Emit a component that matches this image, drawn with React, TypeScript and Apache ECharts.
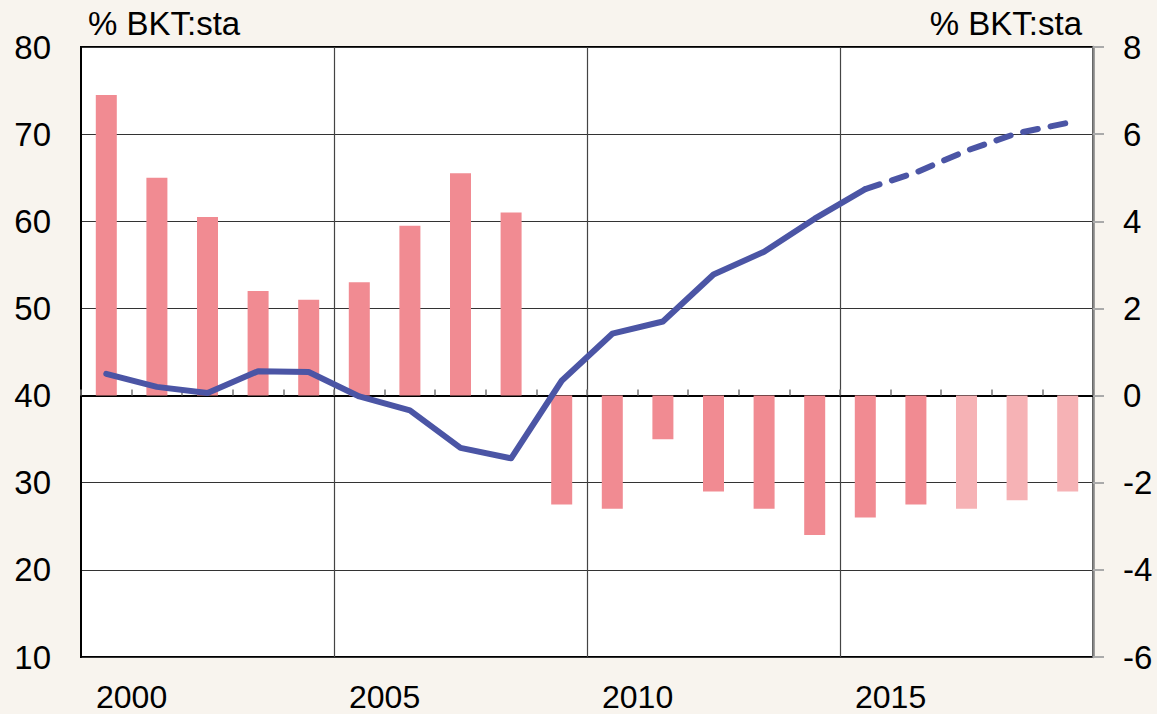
import React, { useEffect, useRef } from "react";
import * as echarts from "echarts";

const years = ["1999", "2000", "2001", "2002", "2003", "2004", "2005", "2006", "2007", "2008",
  "2009", "2010", "2011", "2012", "2013", "2014", "2015", "2016", "2017", "2018"];
// boundary labels (year starts), one more than categories
const boundaryLabels = ["1999", "2000", "2001", "2002", "2003", "2004", "2005", "2006", "2007", "2008",
  "2009", "2010", "2011", "2012", "2013", "2014", "2015", "2016", "2017", "2018", "2019"];
// public debt, % of GDP (left axis)
const debt = [42.5, 41.0, 40.3, 42.8, 42.7, 39.9, 38.3, 34.0, 32.8, 41.7,
  47.1, 48.5, 53.9, 56.5, 60.3, 63.7, 65.6, 68.1, 70.1, 71.3];
// balance, % of GDP (right axis)
const balance = [6.9, 5.0, 4.1, 2.4, 2.2, 2.6, 3.9, 5.1, 4.2, -2.5,
  -2.6, -1.0, -2.2, -2.6, -3.2, -2.8, -2.5, -2.6, -2.4, -2.2];
const forecastStart = 15; // dashed line from this index
const lightBarStart = 17; // lighter bars from this index
const leftTicks = { min: 10, max: 80, interval: 10 };
const rightTicks = { min: -6, max: 8, interval: 2 };

const FONT = "Liberation Sans, Arial, sans-serif";
const FS = 33;
const DARK_BAR = "#f18b92";
const LIGHT_BAR = "#f6b2b5";
const LINE = "#4b55a5";

export default function App() {
  const ref = useRef<HTMLDivElement>(null);
  useEffect(() => {
    if (!ref.current) return;
    const chart = echarts.init(ref.current, null, { renderer: "svg" });
    const solid = debt.map((v, i) => (i <= forecastStart ? v : null));
    const dashed = debt.map((v, i) => (i >= forecastStart ? v : null));
    chart.setOption({
      animation: false,
      backgroundColor: "#f8f4ee",
      textStyle: { fontFamily: FONT },
      grid: {
        left: 81,
        right: 64,
        top: 47,
        bottom: 57,
        show: true,
        backgroundColor: "#ffffff",
        borderColor: "#000",
        borderWidth: 2,
      },
      xAxis: [
        {
          type: "category",
          data: years,
          boundaryGap: true,
          position: "bottom",
          axisLine: { show: true, lineStyle: { color: "#000", width: 2 } },
          axisTick: { show: true, inside: true, length: 6, interval: 0, lineStyle: { color: "#777", width: 1.5 } },
          axisLabel: { show: false },
          splitLine: {
            show: true,
            interval: (index: number) => index > 0 && index % 5 === 0,
            lineStyle: { color: "#444", width: 1.2 },
          },
        },
        {
          type: "category",
          data: boundaryLabels,
          boundaryGap: false,
          position: "bottom",
          axisLine: { show: false },
          axisTick: { show: false },
          splitLine: { show: false },
          axisLabel: {
            show: true,
            interval: (index: number) => index % 5 === 1,
            fontSize: 32,
            lineHeight: 30,
            color: "#000",
            fontFamily: FONT,
            margin: 25,
          },
        },
      ],
      yAxis: [
        {
          type: "value",
          position: "left",
          min: leftTicks.min,
          max: leftTicks.max,
          interval: leftTicks.interval,
          name: "% BKT:sta",
          nameLocation: "end",
          nameGap: 24,
          nameTextStyle: { fontSize: FS, color: "#000", align: "left", verticalAlign: "middle", padding: [0, 0, 0, 7], fontFamily: FONT },
          axisLine: { show: true, lineStyle: { color: "#000", width: 2 } },
          axisTick: { show: false },
          axisLabel: { fontSize: FS, color: "#000", margin: 30, fontFamily: FONT },
          splitLine: { show: true, lineStyle: { color: "#333", width: 1.2 } },
        },
        {
          type: "value",
          position: "right",
          min: rightTicks.min,
          max: rightTicks.max,
          interval: rightTicks.interval,
          name: "% BKT:sta",
          nameLocation: "end",
          nameGap: 24,
          nameTextStyle: { fontSize: FS, color: "#000", align: "right", verticalAlign: "middle", padding: [0, 11, 0, 0], fontFamily: FONT },
          axisLine: { show: true, lineStyle: { color: "#888", width: 2.5 } },
          axisTick: { show: true, length: 11, lineStyle: { color: "#aaa", width: 2 } },
          axisLabel: { fontSize: FS, color: "#000", margin: 30, fontFamily: FONT },
          splitLine: { show: false },
        },
      ],
      series: [
        {
          type: "bar",
          xAxisIndex: 0,
          yAxisIndex: 1,
          barWidth: 21,
          data: balance.map((v, i) => ({
            value: v,
            itemStyle: { color: i >= lightBarStart ? LIGHT_BAR : DARK_BAR },
          })),
          z: 2,
        },
        {
          type: "line",
          xAxisIndex: 0,
          yAxisIndex: 0,
          data: solid,
          symbol: "none",
          lineStyle: { color: LINE, width: 6, cap: "round", join: "round" },
          z: 3,
        },
        {
          type: "line",
          xAxisIndex: 0,
          yAxisIndex: 0,
          data: dashed,
          symbol: "none",
          lineStyle: { color: LINE, width: 6, type: [15, 13], cap: "round", join: "round" },
          z: 3,
        },
      ],
    });
    return () => chart.dispose();
  }, []);
  return (
    <div
      ref={ref}
      style={{ position: "fixed", left: 0, top: 0, width: 1157, height: 714 }}
    />
  );
}
